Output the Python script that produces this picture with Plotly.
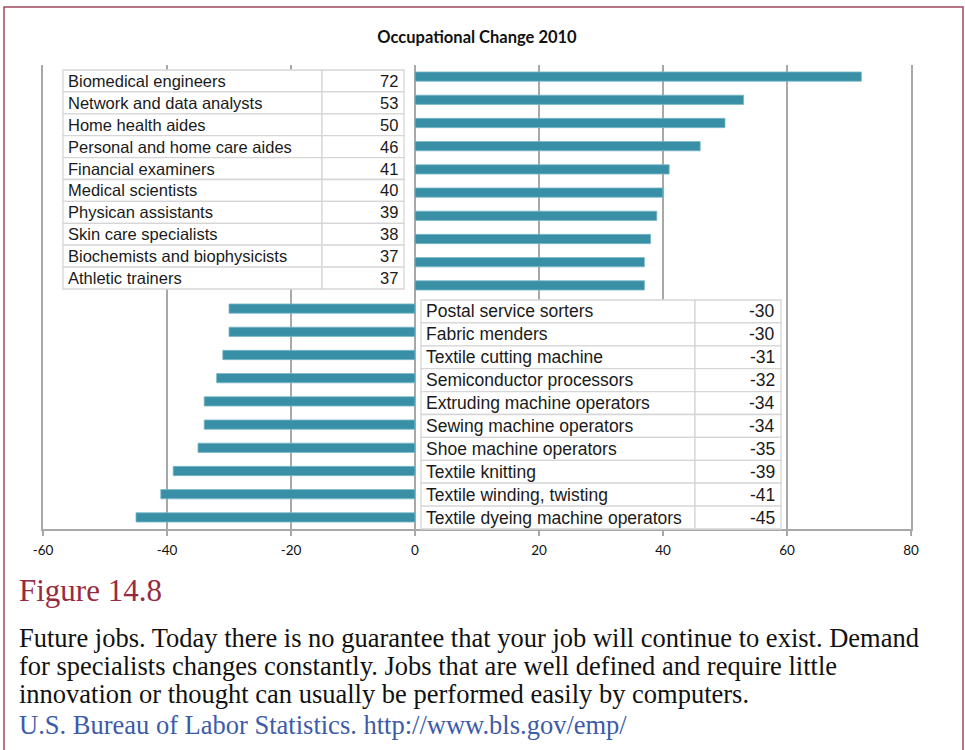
import plotly.graph_objects as go

# ---- data ----
pos_names = ["Biomedical engineers", "Network and data analysts", "Home health aides",
             "Personal and home care aides", "Financial examiners", "Medical scientists",
             "Physican assistants", "Skin care specialists", "Biochemists and biophysicists",
             "Athletic trainers"]
pos_vals = [72, 53, 50, 46, 41, 40, 39, 38, 37, 37]
neg_names = ["Postal service sorters", "Fabric menders", "Textile cutting machine",
             "Semiconductor processors", "Extruding machine operators", "Sewing machine operators",
             "Shoe machine operators", "Textile knitting", "Textile winding, twisting",
             "Textile dyeing machine operators"]
neg_vals = [-30, -30, -31, -32, -34, -34, -35, -39, -41, -45]
x_ticks = [-60, -40, -20, 0, 20, 40, 60, 80]

title_text = "Occupational Change 2010"
fig_label = "Figure 14.8"
caption_lines = [
    "Future jobs. Today there is no guarantee that your job will continue to exist. Demand",
    "for specialists changes constantly. Jobs that are well defined and require little",
    "innovation or thought can usually be performed easily by computers.",
]
source_text = "U.S. Bureau of Labor Statistics. http://www.bls.gov/emp/"

# ---- layout geometry (pixels) ----
W, H = 965, 750
L, R, T, B = 43, 54, 65, 221
PW, PH = W - L - R, H - T - B
BOT = H - B


def xp(px):
    return (px - L) / PW


def yp(py):
    return (BOT - py) / PH


names = pos_names + neg_names
vals = pos_vals + neg_vals

fig = go.Figure()
fig.add_trace(go.Bar(
    x=vals, y=names, orientation="h", width=0.4,
    marker=dict(color="#3990a6", line=dict(color="#7ab8c8", width=0.8)),
    hoverinfo="skip",
))

shapes = []
annotations = []
grey = "#d6d6d6"
txt_col = "#1a1a1a"
axis_grey = "#a8a8a8"


def add_table(rows, values, x0, xs, x1, y0, rh, fsize):
    for i, (n, v) in enumerate(zip(rows, values)):
        top = y0 + i * rh
        bot = top + rh
        for a, b in ((x0, xs), (xs, x1)):
            shapes.append(dict(type="rect", xref="paper", yref="paper",
                               x0=xp(a), x1=xp(b), y0=yp(bot), y1=yp(top),
                               fillcolor="white", line=dict(color=grey, width=1.3),
                               layer="above"))
        cy = yp((top + bot) / 2)
        annotations.append(dict(xref="paper", yref="paper", x=xp(x0 + 3), y=cy,
                                xanchor="left", yanchor="middle", text=n, showarrow=False,
                                font=dict(family="Liberation Sans", size=fsize, color=txt_col)))
        annotations.append(dict(xref="paper", yref="paper", x=xp(x1 - 4), y=cy,
                                xanchor="right", yanchor="middle", text=str(v), showarrow=False,
                                font=dict(family="Liberation Sans", size=fsize, color=txt_col)))


add_table(pos_names, pos_vals, 63, 322, 404, 70, 21.9, 16.5)
add_table(neg_names, neg_vals, 421, 695, 781, 300, 22.9, 17.5)

# frame
shapes.append(dict(type="rect", xref="paper", yref="paper",
                   x0=xp(4), x1=xp(963), y0=yp(770), y1=yp(7),
                   line=dict(color="#a04a5c", width=1.5), fillcolor="rgba(0,0,0,0)",
                   layer="above"))

# caption
annotations.append(dict(xref="paper", yref="paper", x=xp(17), y=yp(590),
                        xanchor="left", yanchor="middle", text=fig_label, showarrow=False,
                        font=dict(family="Liberation Serif", size=31, color="#962b3f")))
for i, line in enumerate(caption_lines):
    annotations.append(dict(xref="paper", yref="paper", x=xp(17), y=yp(638 + 28 * i),
                            xanchor="left", yanchor="middle", text=line, showarrow=False,
                            font=dict(family="Liberation Serif", size=26.5, color="#111111")))
annotations.append(dict(xref="paper", yref="paper", x=xp(17), y=yp(725),
                        xanchor="left", yanchor="middle", text=source_text, showarrow=False,
                        font=dict(family="Liberation Serif", size=26.5, color="#3d5ba9")))

fig.update_layout(
    width=W, height=H,
    margin=dict(l=L, r=R, t=T, b=B, pad=0),
    paper_bgcolor="white", plot_bgcolor="white",
    showlegend=False,
    title=dict(text="<b>" + title_text + "</b>", x=xp(477), xref="paper", xanchor="center",
               y=1 - 37 / H, yanchor="middle",
               font=dict(family="Lato", size=16.5, color="#111111")),
    xaxis=dict(range=[-60, 80], tickvals=x_ticks, ticktext=[str(t) for t in x_ticks],
               showgrid=True, gridcolor=axis_grey, gridwidth=1.5,
               zeroline=True, zerolinecolor=axis_grey, zerolinewidth=1.5,
               showline=True, linecolor=axis_grey, linewidth=1.5,
               ticks="outside", ticklen=5, tickcolor=axis_grey, tickwidth=1.5,
               ticklabelstandoff=3,
               tickfont=dict(family="Lato", size=13.5, color="#111111")),
    yaxis=dict(categoryorder="array", categoryarray=names, autorange="reversed",
               showgrid=False, zeroline=False, showline=True, mirror=True,
               linecolor=axis_grey, linewidth=1.5, showticklabels=False,
               ticks=""),
    shapes=shapes,
    annotations=annotations,
)

fig.write_html("out.html")
